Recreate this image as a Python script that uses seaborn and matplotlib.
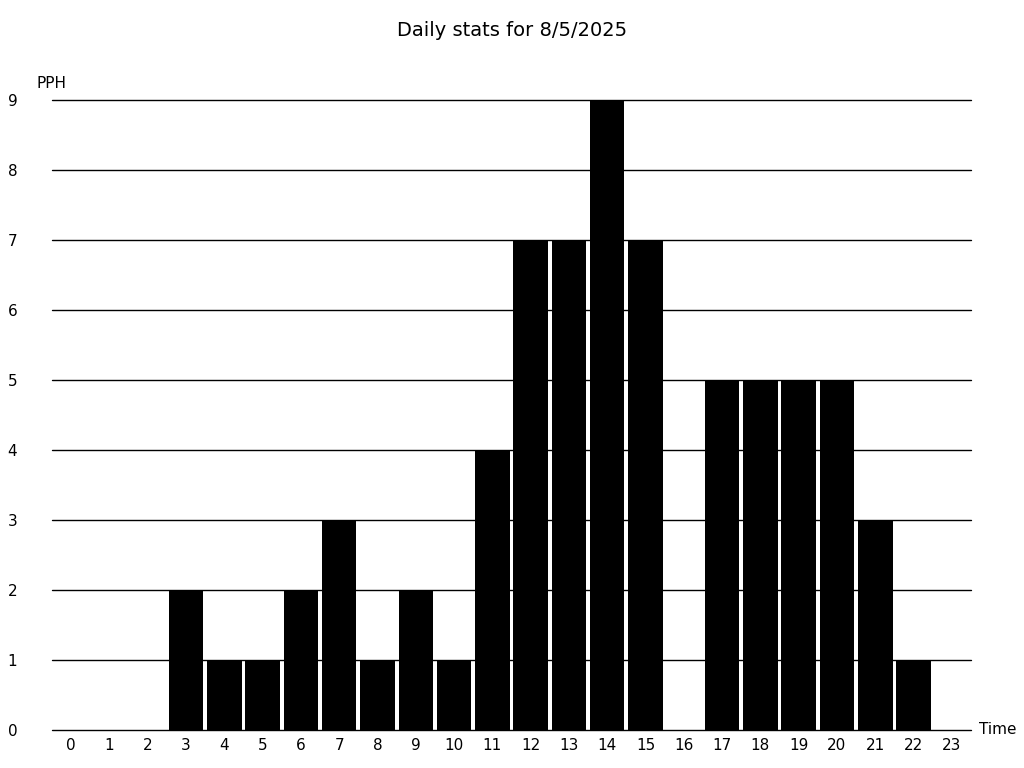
import matplotlib
matplotlib.use("Agg")
import matplotlib.pyplot as plt
import seaborn as sns
import pandas as pd

# Données horaires
hours = [str(h) for h in range(24)]
pph = [0, 0, 0, 2, 1, 1, 2, 3, 1, 2, 1, 4, 7, 7, 9, 7, 0, 5, 5, 5, 5, 3, 1, 0]
y_ticks = list(range(10))
title = "Daily stats for 8/5/2025"

df = pd.DataFrame({"Time": hours, "PPH": pph})

sns.set_style("white")
plt.rcParams["font.family"] = ["DejaVu Sans"]
plt.rcParams["text.color"] = "black"
plt.rcParams["xtick.color"] = "black"
plt.rcParams["ytick.color"] = "black"

fig = plt.figure(figsize=(10.24, 7.68), dpi=100)
ax = fig.add_axes([52 / 1024, 38 / 768, 919 / 1024, 630 / 768])

# grille derrière les barres
for v in y_ticks:
    ax.axhline(v, color="black", linewidth=1, zorder=0, clip_on=False)

sns.barplot(data=df, x="Time", y="PPH", order=hours, color="black",
            saturation=1, width=0.9, linewidth=0, ax=ax, zorder=2)

ax.set_xlim(-0.5, 23.5)
ax.set_ylim(0, 9)
ax.set_yticks(y_ticks)
ax.tick_params(axis="y", length=0, pad=25, labelsize=11, labelcolor="black")
ax.tick_params(axis="x", length=0, pad=6, labelsize=11, labelcolor="black")
ax.set_xlabel("")
ax.set_ylabel("")
sns.despine(ax=ax, left=True, bottom=True)

ax.text(0.0, 1 + 16 / 630, "PPH", transform=ax.transAxes, ha="center",
        va="center", fontsize=11, color="black")
ax.text(1 + 27 / 919, 0.0, "Time", transform=ax.transAxes, ha="center",
        va="center", fontsize=11, color="black")

fig.suptitle(title, y=1 - 30 / 768, va="center", fontsize=14, color="black")

fig.savefig("out.png", dpi=100)
